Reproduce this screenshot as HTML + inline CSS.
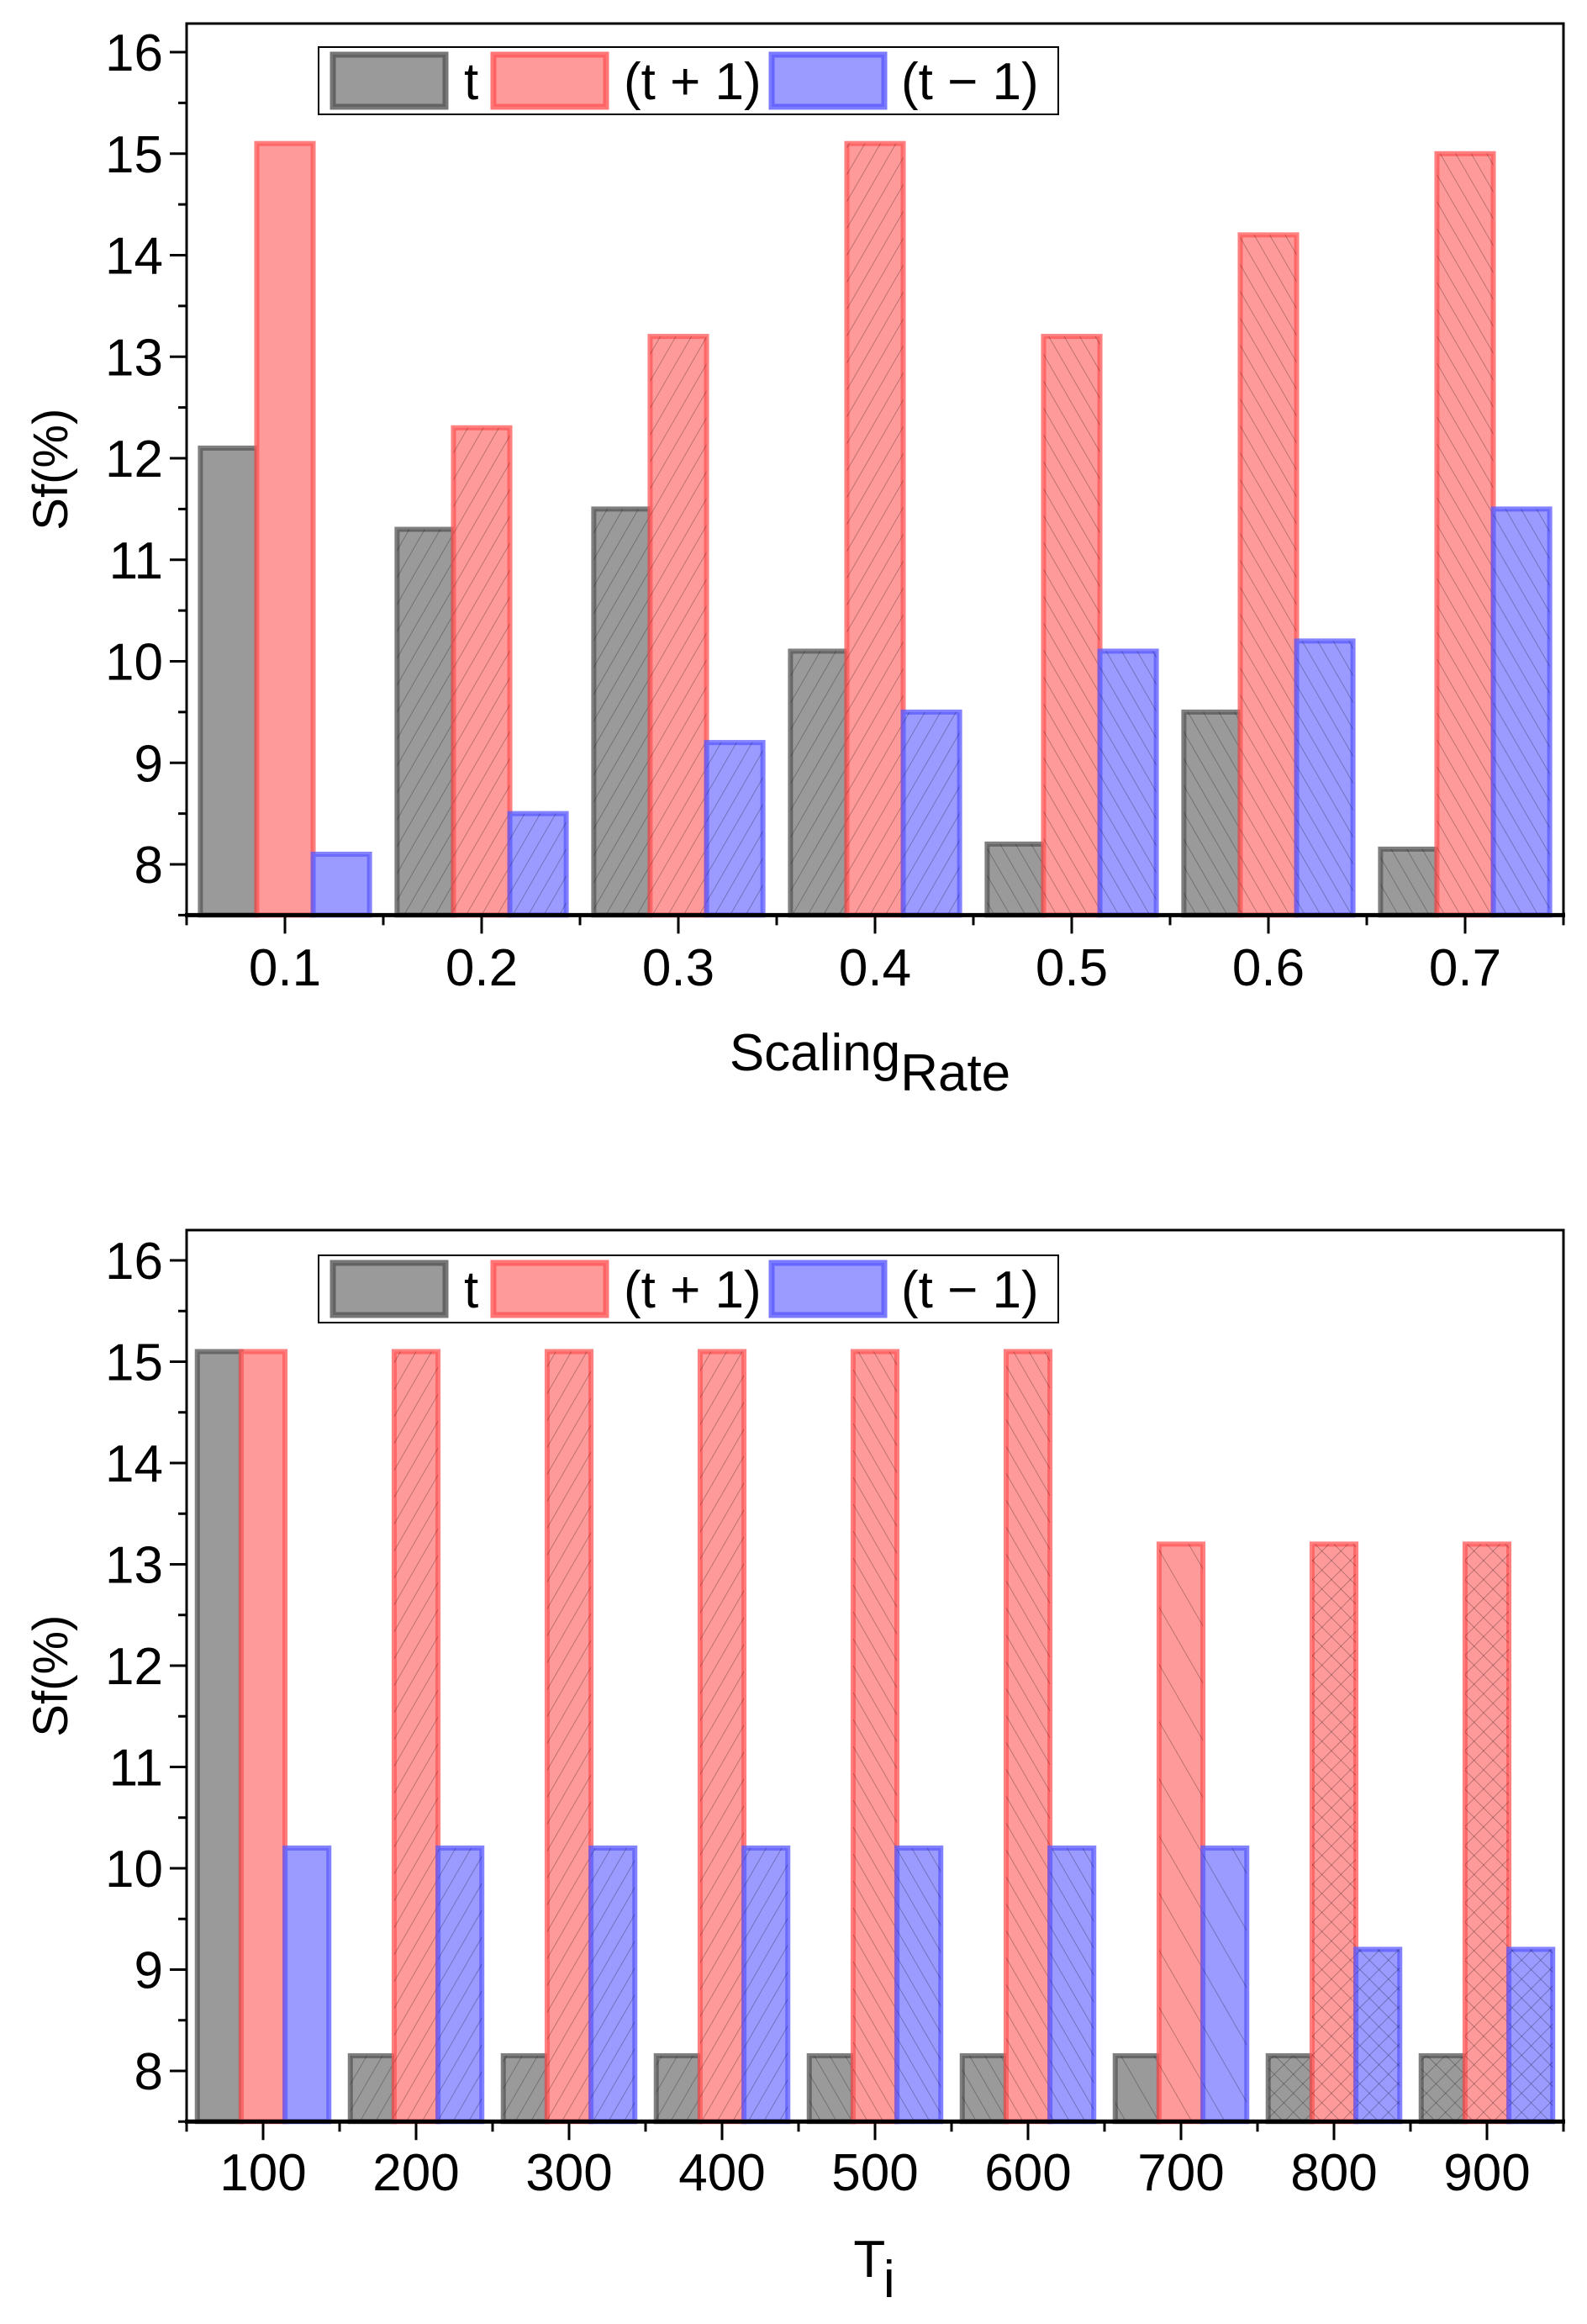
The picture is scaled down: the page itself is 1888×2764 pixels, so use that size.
<!DOCTYPE html>
<html><head><meta charset="utf-8"><style>
html,body{margin:0;padding:0;background:#fff;}
svg{display:block;font-family:"Liberation Sans",Arial,sans-serif;}
</style></head><body>
<svg id="fig" width="1888" height="2764" viewBox="0 0 1888 2764" xmlns="http://www.w3.org/2000/svg">
<defs>
<pattern id="hf" width="16" height="16" patternUnits="userSpaceOnUse" patternTransform="rotate(30)"><line x1="0" y1="0" x2="0" y2="16" stroke="#000" stroke-opacity="0.35" stroke-width="1.5"/></pattern>
<pattern id="hb" width="16" height="16" patternUnits="userSpaceOnUse" patternTransform="rotate(-30)"><line x1="0" y1="0" x2="0" y2="16" stroke="#000" stroke-opacity="0.35" stroke-width="1.5"/></pattern>
<pattern id="hs" width="34" height="34" patternUnits="userSpaceOnUse" patternTransform="rotate(-30)"><line x1="0" y1="0" x2="0" y2="34" stroke="#000" stroke-opacity="0.35" stroke-width="1.5"/></pattern>
<pattern id="hx" width="16" height="16" patternUnits="userSpaceOnUse" patternTransform="rotate(45)"><line x1="0" y1="0" x2="0" y2="16" stroke="#000" stroke-opacity="0.35" stroke-width="1.5"/><line x1="0" y1="0" x2="16" y2="0" stroke="#000" stroke-opacity="0.35" stroke-width="1.5"/></pattern>
</defs>
</svg>
<script>
// ---- Chart 1 data ----
const cats1 = ["0.1","0.2","0.3","0.4","0.5","0.6","0.7"];
const t1 = [12.1, 11.3, 11.5, 10.1, 8.2, 9.5, 8.15];
const tp1 = [15.1, 12.3, 13.2, 15.1, 13.2, 14.2, 15.0];
const tm1 = [8.1, 8.5, 9.2, 9.5, 10.1, 10.2, 11.5];
const hatch1 = ["", "hf", "hf", "hf", "hb", "hb", "hb"];
// ---- Chart 2 data ----
const cats2 = ["100","200","300","400","500","600","700","800","900"];
const t2 = [15.1, 8.15, 8.15, 8.15, 8.15, 8.15, 8.15, 8.15, 8.15];
const tp2 = [15.1, 15.1, 15.1, 15.1, 15.1, 15.1, 13.2, 13.2, 13.2];
const tm2 = [10.2, 10.2, 10.2, 10.2, 10.2, 10.2, 10.2, 9.2, 9.2];
const hatch2 = ["", "hf", "hf", "hf", "hb", "hb", "hs", "hx", "hx"];
const yTicks = [8, 9, 10, 11, 12, 13, 14, 15, 16];
const seriesNames = ["t", "(t + 1)", "(t \u2212 1)"];

const NS = "http://www.w3.org/2000/svg";
const svg = document.getElementById("fig");
const fills = ["#9a9a9a", "#ff9a9a", "#9a9aff"];
const strokes = ["#555", "#ff5555", "#5a5aff"];

function mk(tag, attrs, parent) {
  const e = document.createElementNS(NS, tag);
  for (const k in attrs) e.setAttribute(k, attrs[k]);
  (parent || svg).appendChild(e);
  return e;
}

function chart(o) {
  const g = mk("g", {});
  
  
  const L = 222, R = 1860, yMin = 7.5, n = o.cats.length;
  const y = v => o.y8 + (8 - v) * o.unit;
  const bw = (R - L) / n;
  const x = i => L + bw * (i + 0.5);
  const barW = bw * o.frac / 3;
  const series = [o.t, o.tp, o.tm];
  for (let i = 0; i < n; i++) {
    for (let s = 0; s < 3; s++) {
      const v = series[s][i];
      const x0 = x(i) - 1.5 * barW + s * barW;
      const r = mk("rect", {x: x0, y: y(v), width: barW, height: y(yMin) - y(v), fill: fills[s], stroke: strokes[s], "stroke-width": 6, "stroke-opacity": 0.75}, g);
      
      
      if (o.hatch[i]) {
        const h = mk("rect", {x: x0, y: y(v), width: barW, height: y(yMin) - y(v), fill: "url(#" + o.hatch[i] + ")"}, g);
        
        
      }
    }
  }
  const top = o.top, bot = y(yMin);
  const fr = mk("rect", {x: L, y: top, width: R - L, height: bot - top, fill: "none", stroke: "#000", "stroke-width": 3}, g);
  
  
  mk("line", {x1: L - 2, x2: R + 2, y1: bot, y2: bot, stroke: "#000", "stroke-width": 5}, g);
  for (const tv of yTicks) {
    mk("line", {x1: L - 20, x2: L, y1: y(tv), y2: y(tv), stroke: "#000", "stroke-width": 3}, g);
    mk("line", {x1: L - 10, x2: L, y1: y(tv - 0.5), y2: y(tv - 0.5), stroke: "#000", "stroke-width": 3}, g);
    const t = mk("text", {x: L - 28, y: y(tv) + 22, "text-anchor": "end", "font-size": 62}, g);
    t.textContent = tv;
    
    
  }
  for (let i = 0; i < n; i++) {
    mk("line", {x1: x(i), x2: x(i), y1: bot, y2: bot + 22, stroke: "#000", "stroke-width": 3}, g);
    mk("line", {x1: L + bw * i, x2: L + bw * i, y1: bot, y2: bot + 12, stroke: "#000", "stroke-width": 3}, g);
    const t = mk("text", {x: x(i), y: o.labY, "text-anchor": "middle", "font-size": 62}, g);
    t.textContent = o.cats[i];
    
    
  }
  mk("line", {x1: R, x2: R, y1: bot, y2: bot + 12, stroke: "#000", "stroke-width": 3}, g);
  const yt = mk("text", {x: 0, y: 0, "text-anchor": "middle", "font-size": 58, transform: "translate(80," + ((top + bot) / 2) + ") rotate(-90)"}, g);
  yt.textContent = "Sf(%)";
  
  
  const xt = mk("text", {x: o.xtX, y: o.xtY, "text-anchor": "middle", "font-size": 62}, g);
  
  
  const m = mk("tspan", {}, xt); m.textContent = o.xt[0];
  const sb = mk("tspan", {dy: 24, "font-size": 62}, xt); sb.textContent = o.xt[1];
  const lg = mk("g", {}, g);
  
  
  const ly = o.legY;
  mk("rect", {x: 379, y: ly, width: 880, height: 80, fill: "#fff", stroke: "#000", "stroke-width": 2}, lg);
  const sx = [396, 587, 918], tx = [552, 742, 1072];
  for (let s = 0; s < 3; s++) {
    const sw = mk("rect", {x: sx[s], y: ly + 9, width: 134, height: 62, fill: fills[s], stroke: strokes[s], "stroke-width": 7, "stroke-opacity": 0.8}, lg);
    
    
    const lt = mk("text", {x: tx[s], y: ly + 62, "font-size": 62}, lg);
    lt.textContent = seriesNames[s];
    
    
  }
}

chart({name: "chart-scaling-rate", cats: cats1, t: t1, tp: tp1, tm: tm1, hatch: hatch1,
  y8: 1028, unit: 120.75, top: 28, frac: 0.86, labY: 1172, xt: ["Scaling", "Rate"], xtX: 1035, xtY: 1273, legY: 56});
chart({name: "chart-ti", cats: cats2, t: t2, tp: tp2, tm: tm2, hatch: hatch2,
  y8: 2463, unit: 120.5, top: 1463, frac: 0.86, labY: 2605, xt: ["T", "i"], xtX: 1040, xtY: 2708, legY: 1493});
</script>
</body></html>
